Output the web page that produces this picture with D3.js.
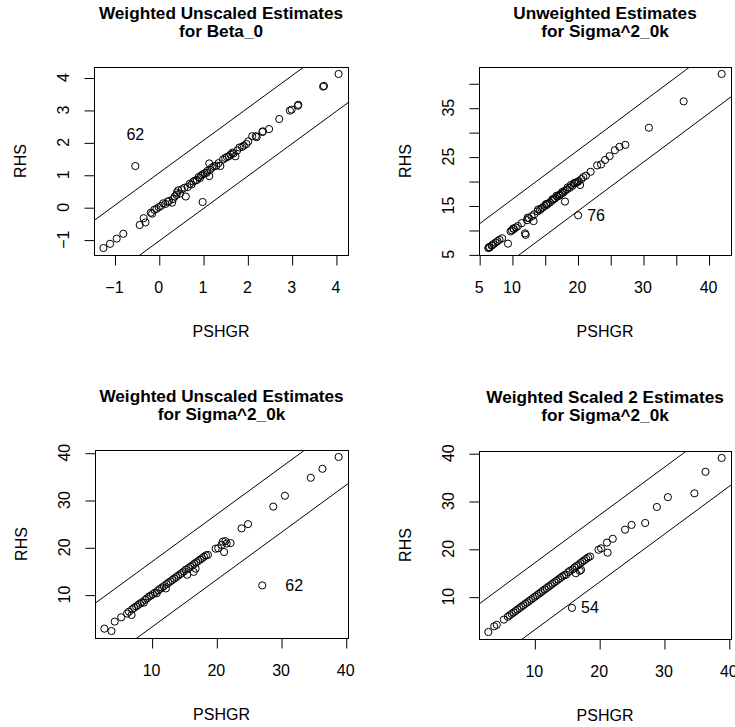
<!DOCTYPE html>
<html><head><meta charset="utf-8">
<script src="https://cdn.jsdelivr.net/npm/d3@7"></script>
<style>
body{margin:0;background:#fff}
svg{display:block}
text{font-family:"Liberation Sans",Arial,Helvetica,sans-serif;fill:#000}
</style>
</head><body>
<svg id="c" width="735" height="727"></svg>
<script>
// ---------- DATA ----------
const titles = [
  ["Weighted Unscaled Estimates", "for Beta_0"],
  ["Unweighted Estimates", "for Sigma^2_0k"],
  ["Weighted Unscaled Estimates", "for Sigma^2_0k"],
  ["Weighted Scaled 2 Estimates", "for Sigma^2_0k"]
];
const xLabel = "PSHGR";
const yLabel = "RHS";

// Panel 1: Weighted Unscaled Estimates for Beta_0
const beta0X = [-1.25,-1.10,-0.95,-0.80,-0.53,-0.43,-0.34,-0.30,-0.18,-0.15,-0.10,-0.05,0.00,0.05,0.10,0.15,0.20,0.23,0.30,0.32,0.36,0.40,0.41,0.44,0.48,0.52,0.58,0.61,0.65,0.70,0.74,0.78,0.82,0.86,0.90,0.93,0.96,0.99,1.00,1.04,1.08,1.10,1.14,1.14,1.16,1.20,1.25,1.30,1.35,1.39,1.45,1.50,1.54,1.58,1.62,1.66,1.69,1.73,1.77,1.82,1.88,1.92,1.98,2.02,2.11,2.19,2.21,2.34,2.35,2.49,2.72,2.96,3.00,3.14,3.15,3.71,3.73,4.06];
const beta0Y = [-1.26,-1.13,-0.97,-0.82,1.27,-0.55,-0.34,-0.47,-0.17,-0.20,-0.08,-0.05,0.00,0.04,0.12,0.10,0.17,0.19,0.14,0.25,0.33,0.38,0.45,0.52,0.42,0.55,0.60,0.33,0.62,0.72,0.70,0.79,0.82,0.84,0.93,0.90,0.98,0.16,1.02,1.05,1.06,1.12,0.96,1.35,1.15,1.22,1.26,1.28,1.36,1.27,1.47,1.52,1.55,1.57,1.62,1.68,1.66,1.57,1.75,1.84,1.86,1.90,1.95,2.03,2.19,2.19,2.16,2.32,2.34,2.41,2.72,2.98,3.01,3.13,3.16,3.72,3.74,4.11];

// Panel 2: Unweighted Estimates for Sigma^2_0k
const unwX = [6.4,6.5,6.6,6.9,7.0,7.2,7.5,7.8,8.1,8.5,9.4,9.8,10.0,10.2,10.3,10.6,10.9,11.5,12.0,12.1,12.3,12.4,12.6,13.0,13.3,13.4,13.9,14.0,14.3,14.5,14.7,15.0,15.2,15.3,15.5,15.8,16.1,16.2,16.4,16.6,16.8,16.9,17.2,17.3,17.5,17.7,17.8,18.1,18.1,18.4,18.5,18.8,19.0,19.2,19.5,19.6,19.8,20.0,20.1,20.2,20.4,20.6,20.9,21.3,22.0,23.0,23.6,24.2,24.9,25.7,26.4,27.3,30.9,36.2,42.0];
const unwY = [6.3,6.5,6.4,6.8,6.9,7.1,7.4,7.7,8.0,8.3,7.2,9.7,9.9,10.3,10.2,10.5,10.8,11.4,9.3,9.0,12.0,12.5,12.4,12.8,11.8,13.2,13.8,14.2,14.1,14.4,14.6,14.9,15.3,15.1,15.4,15.6,16.0,16.3,16.3,16.5,17.0,16.8,17.0,17.2,17.4,17.8,17.6,15.8,18.0,18.3,18.7,18.6,19.2,19.0,19.6,19.5,19.7,19.8,13.0,20.0,19.2,20.4,20.8,21.1,21.9,23.2,23.4,24.3,25.1,26.3,27.0,27.4,30.9,36.3,41.9];

// Panel 3: Weighted Unscaled Estimates for Sigma^2_0k
const wuX = [2.7,3.8,4.3,5.3,6.2,6.5,6.9,7.0,7.3,7.6,7.9,8.2,8.5,8.8,9.0,9.3,9.6,9.9,10.2,10.5,10.8,11.0,11.3,11.6,11.9,12.2,12.3,12.6,12.9,13.2,13.5,13.8,14.1,14.4,14.7,15.0,15.3,15.5,15.7,16.0,16.3,16.5,16.6,16.8,16.9,17.2,17.5,17.8,18.1,18.4,18.7,19.9,20.3,20.8,21.0,21.2,21.4,21.6,22.2,23.9,24.9,27.1,28.8,30.6,34.6,36.4,38.9];
const wuY = [2.8,2.3,4.3,5.2,6.0,6.4,5.7,6.9,7.2,7.5,7.8,8.1,8.4,8.3,8.9,9.2,9.6,9.8,10.1,10.4,10.3,10.9,11.2,11.5,11.8,11.3,12.2,12.5,12.8,13.1,13.4,13.7,14.0,14.3,14.6,14.9,15.3,14.2,15.6,15.9,16.2,14.8,16.5,15.5,16.8,17.1,17.4,17.7,18.0,18.3,18.4,19.7,19.8,20.5,21.2,19.0,21.3,20.8,20.9,24.0,24.9,11.95,28.6,30.9,34.7,36.6,39.1];

// Panel 4: Weighted Scaled 2 Estimates for Sigma^2_0k
const wsX = [2.9,3.8,4.2,5.3,5.9,6.2,6.5,6.8,7.1,7.4,7.7,8.0,8.3,8.6,8.9,9.2,9.5,9.8,10.1,10.4,10.7,11.0,11.3,11.6,11.9,12.2,12.5,12.8,13.1,13.4,13.7,14.0,14.3,14.6,14.9,15.2,15.5,15.8,15.9,16.2,16.4,16.5,16.8,17.0,17.2,17.1,17.4,17.7,18.0,18.3,18.6,19.9,20.3,21.2,21.3,22.1,24.0,25.0,27.1,28.9,30.6,34.7,36.4,38.9];
const wsY = [2.6,3.8,4.1,5.2,5.8,6.1,6.4,6.7,7.0,7.3,7.6,7.9,8.2,8.5,8.8,9.1,9.4,9.7,10.0,10.3,10.6,10.9,11.2,11.5,11.8,12.1,12.4,12.7,13.0,13.3,13.6,13.9,14.2,14.5,14.6,15.1,15.4,7.65,15.7,16.1,14.9,16.4,16.6,15.4,15.6,17.0,17.3,17.6,17.9,18.2,18.4,19.8,20.1,21.3,19.2,22.1,24.0,25.0,25.4,28.75,30.8,31.6,36.1,39.0];

// offsets of the two reference lines y = x +/- band
const bands = [1.05, 6.2, 6.9, 7.0];

// tick values and their labels ("" = tick without label)
const xTickVals = [[-1,0,1,2,3,4],[5,10,15,20,25,30,35,40],[10,20,30,40],[10,20,30,40]];
const xTickLabs = [["\u22121","0","1","2","3","4"],["5","10","","20","","30","","40"],["10","20","30","40"],["10","20","30","40"]];
const yTickVals = [[-1,0,1,2,3,4],[5,10,15,20,25,30,35,40],[10,20,30,40],[10,20,30,40]];
const yTickLabs = [["\u22121","0","1","2","3","4"],["5","","15","","25","","35",""],["10","20","30","40"],["10","20","30","40"]];

// identified outliers (label, point index)
const noteText = ["62","76","62","54"];
const notePoint = [4, 58, 61, 37];

// ---------- LAYOUT ----------
const boxes = [
  {l:94, r:348, t:67, b:255},
  {l:479, r:731, t:67, b:255},
  {l:95, r:348, t:450, b:638},
  {l:479, r:731, t:451, b:639}
];
const noteOffset = [[0,-32],[18,0],[32,0],[18,0]];
const seriesX = [beta0X, unwX, wuX, wsX];
const seriesY = [beta0Y, unwY, wuY, wsY];

const svg = d3.select("#c");
const pad = ext => { const d = ext[1]-ext[0]; return [ext[0]-0.04*d, ext[1]+0.04*d]; };

boxes.forEach((bx, i) => {
  const X = seriesX[i], Y = seriesY[i];
  const pts = X.map((x, k) => [x, Y[k]]);
  const xs = d3.scaleLinear().domain(pad(d3.extent(X))).range([bx.l, bx.r]);
  const ys = d3.scaleLinear().domain(pad(d3.extent(Y))).range([bx.b, bx.t]);
  const g = svg.append("g");

  const cid = "clip" + i;
  svg.append("clipPath").attr("id", cid).append("rect")
    .attr("x", bx.l).attr("y", bx.t).attr("width", bx.r-bx.l).attr("height", bx.b-bx.t);

  const [x0, x1] = xs.domain();
  [1, -1].forEach(s => {
    g.append("line").attr("clip-path", `url(#${cid})`)
      .attr("x1", xs(x0-50)).attr("y1", ys(x0-50 + s*bands[i]))
      .attr("x2", xs(x1+50)).attr("y2", ys(x1+50 + s*bands[i]))
      .attr("stroke", "#000").attr("stroke-width", 1);
  });

  g.selectAll("circle.p").data(pts).join("circle")
    .attr("cx", d => xs(d[0])).attr("cy", d => ys(d[1])).attr("r", 3.6)
    .attr("fill", "none").attr("stroke", "#000").attr("stroke-width", 1);

  g.append("rect").attr("x", bx.l+0.5).attr("y", bx.t+0.5)
    .attr("width", bx.r-bx.l).attr("height", bx.b-bx.t)
    .attr("fill", "none").attr("stroke", "#000").attr("stroke-width", 1);

  const xa = d3.axisBottom(xs).tickValues(xTickVals[i]).tickSize(10).tickFormat("");
  const gx = g.append("g").attr("transform", `translate(0.5,${bx.b+0.5})`).call(xa);
  gx.select(".domain").remove();
  gx.selectAll("line").attr("stroke", "#000");
  const ya = d3.axisLeft(ys).tickValues(yTickVals[i]).tickSize(10).tickFormat("");
  const gy = g.append("g").attr("transform", `translate(${bx.l+0.5},0.5)`).call(ya);
  gy.select(".domain").remove();
  gy.selectAll("line").attr("stroke", "#000");

  g.selectAll("text.xl").data(xTickVals[i]).join("text")
    .attr("x", d => xs(d)).attr("y", bx.b + 38)
    .attr("text-anchor", "middle").attr("font-size", 16)
    .text((d, k) => xTickLabs[i][k]);
  g.selectAll("text.yl").data(yTickVals[i]).join("text")
    .attr("transform", d => `translate(${bx.l-31},${ys(d)}) rotate(-90)`)
    .attr("text-anchor", "middle").attr("dy", "0.35em").attr("font-size", 16)
    .text((d, k) => yTickLabs[i][k]);

  g.append("text").attr("x", (bx.l+bx.r)/2).attr("y", bx.b + 82)
    .attr("text-anchor", "middle").attr("font-size", 16).text(xLabel);
  g.append("text")
    .attr("transform", `translate(${bx.l-74},${(bx.t+bx.b)/2}) rotate(-90)`)
    .attr("text-anchor", "middle").attr("dy", "0.35em").attr("font-size", 16).text(yLabel);

  g.append("text").attr("x", (bx.l+bx.r)/2).attr("y", bx.t - 48.5)
    .attr("text-anchor", "middle").attr("font-size", 17.2).attr("font-weight", "bold").text(titles[i][0]);
  g.append("text").attr("x", (bx.l+bx.r)/2).attr("y", bx.t - 30)
    .attr("text-anchor", "middle").attr("font-size", 17.2).attr("font-weight", "bold").text(titles[i][1]);

  const p = pts[notePoint[i]];
  g.append("text").attr("x", xs(p[0]) + noteOffset[i][0]).attr("y", ys(p[1]) + noteOffset[i][1])
    .attr("text-anchor", "middle").attr("dy", "0.35em").attr("font-size", 16).text(noteText[i]);
});
</script>
</body></html>
